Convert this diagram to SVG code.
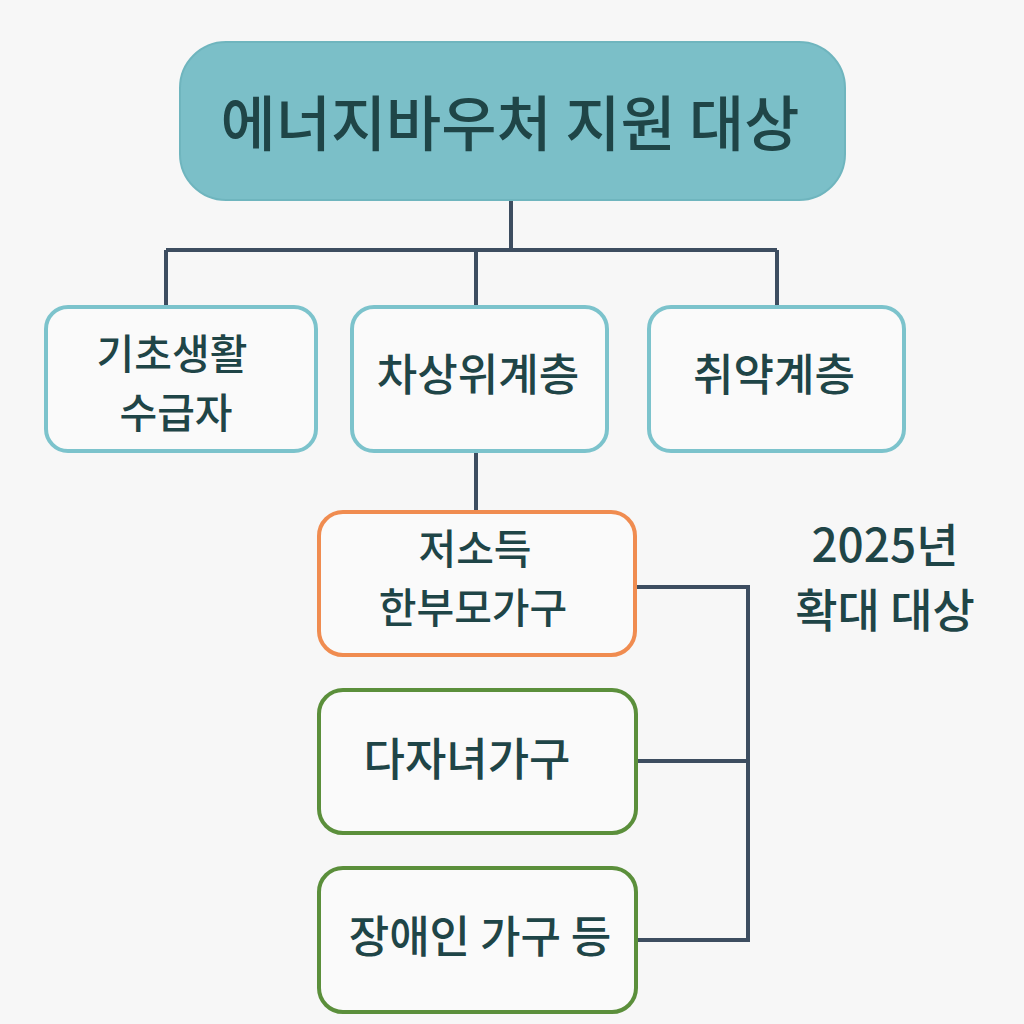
<svg xmlns="http://www.w3.org/2000/svg" width="1024" height="1024" viewBox="0 0 1024 1024">
<style>
.t{font-family:"Noto Sans CJK KR","Noto Sans",sans-serif;fill:#1f4547;text-anchor:middle;font-weight:500}
.s{font-size:44px}
.d{font-size:41px}
.b{fill:#fafafa;stroke-width:4}
.c{fill:none;stroke:#3d4d60;stroke-width:4}
</style>
<rect width="1024" height="1024" fill="#f7f7f7"/>
<g id="connectors">
<path class="c" d="M511 200V250M166 250H777M166 250V307M476 250V307M777 250V307"/>
<path class="c" d="M476 451V512"/>
<path class="c" d="M636 587H748V940H636M636 761H748"/>
</g>
<g id="root">
<rect x="180" y="42" width="665" height="158" rx="46" fill="#7bbfc8" stroke="#6fb5be" stroke-width="2"/>
<text class="t" x="510" y="146" font-size="60" font-weight="700">에너지바우처 지원 대상</text>
</g>
<g id="n1">
<rect class="b" x="46" y="307" width="270" height="144" rx="22" stroke="#7cc3cc"/>
<text class="t d" x="172" y="369">기초생활</text>
<text class="t d" x="176" y="428">수급자</text>
</g>
<g id="n2">
<rect class="b" x="352" y="307" width="255" height="144" rx="22" stroke="#7cc3cc"/>
<text class="t s" x="478" y="391">차상위계층</text>
</g>
<g id="n3">
<rect class="b" x="649" y="307" width="255" height="144" rx="22" stroke="#7cc3cc"/>
<text class="t s" x="774" y="391">취약계층</text>
</g>
<g id="n4">
<rect class="b" x="319" y="512" width="316" height="143" rx="24" stroke="#f08c50"/>
<text class="t d" x="475" y="564">저소득</text>
<text class="t d" x="473" y="623">한부모가구</text>
</g>
<g id="n5">
<rect class="b" x="319" y="690" width="317" height="143" rx="24" stroke="#5b8f3b"/>
<text class="t" x="467" y="776" font-size="45">다자녀가구</text>
</g>
<g id="n6">
<rect class="b" x="319" y="868" width="317" height="144" rx="24" stroke="#5b8f3b"/>
<text class="t s" x="480" y="953">장애인 가구 등</text>
</g>
<g id="note">
<text class="t" x="885" y="562" font-size="46" font-weight="700">2025년</text>
<text class="t" x="885" y="627" font-size="46" font-weight="700">확대 대상</text>
</g>
</svg>
